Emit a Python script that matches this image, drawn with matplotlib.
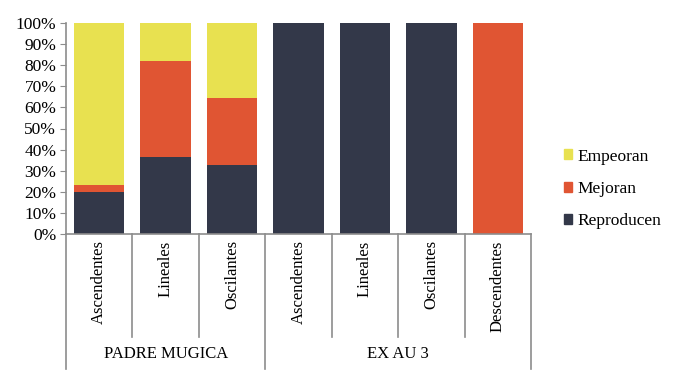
import numpy as np
import matplotlib
matplotlib.use("Agg")
import matplotlib.pyplot as plt
from matplotlib.patches import Patch
from matplotlib.ticker import FuncFormatter

plt.rcParams['font.family'] = 'serif'
plt.rcParams['font.serif'] = ['Liberation Serif', 'DejaVu Serif']

categories = ['Ascendentes', 'Lineales', 'Oscilantes', 'Ascendentes', 'Lineales', 'Oscilantes', 'Descendentes']
groups = ['PADRE MUGICA', 'EX AU 3']
group_sizes = [3, 4]
reproducen = [20.0, 36.6, 32.5, 100, 100, 100, 0]
mejoran = [3.3, 45.4, 32.1, 0, 0, 0, 100]
empeoran = [76.7, 18.0, 35.4, 0, 0, 0, 0]

c_rep = '#333849'
c_mej = '#E05533'
c_emp = '#E8E150'
gray = '#8c8c8c'

fig = plt.figure(figsize=(6.79, 3.83), dpi=100)
ax = fig.add_axes([66/679, 149/383, 465/679, 211/383])

x = np.arange(len(categories)) + 0.5
w = 0.76
ax.bar(x, reproducen, w, color=c_rep)
ax.bar(x, mejoran, w, bottom=reproducen, color=c_mej)
ax.bar(x, empeoran, w, bottom=np.add(reproducen, mejoran), color=c_emp)

ax.set_xlim(0, len(categories))
ax.set_ylim(0, 100)
ax.set_yticks(np.arange(0, 101, 10))
ax.yaxis.set_major_formatter(FuncFormatter(lambda v, p: f'{int(v)}%'))
ax.tick_params(axis='y', labelsize=12.5, length=4, color=gray, pad=3)
ax.set_xticks([])
for s in ['top', 'right']:
    ax.spines[s].set_visible(False)
for s in ['left', 'bottom']:
    ax.spines[s].set_color(gray)
    ax.spines[s].set_linewidth(1.2)

tr = ax.get_xaxis_transform()
# category separators
bounds = np.cumsum([0] + group_sizes)
for i in range(len(categories) + 1):
    low = -0.64 if i in bounds else -0.49
    ax.plot([i, i], [0, low], transform=tr, color=gray, lw=1.2, clip_on=False)
for i, c in enumerate(categories):
    ax.text(i + 0.5, -0.03, c, transform=tr, rotation=90, ha='center', va='top', fontsize=12)
for g, a, b in zip(groups, bounds[:-1], bounds[1:]):
    ax.text((a + b) / 2, -0.57, g, transform=tr, ha='center', va='center', fontsize=12)

handles = [Patch(color=c_emp), Patch(color=c_mej), Patch(color=c_rep)]
fig.legend(handles, ['Empeoran', 'Mejoran', 'Reproducen'], loc='center left',
           bbox_to_anchor=(548/679, 1 - 189/383), frameon=False,
           prop={'family': 'serif', 'size': 12.5},
           handlelength=0.5, handleheight=0.5, handletextpad=0.3, labelspacing=0.95)

fig.savefig('out.png', dpi=100)
